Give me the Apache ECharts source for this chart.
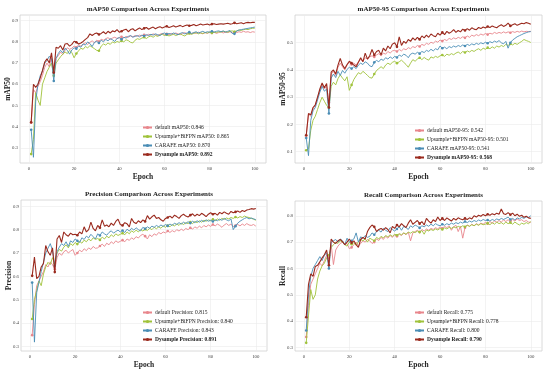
<!DOCTYPE html>
<html>
<head>
<meta charset="utf-8">
<script src="https://cdn.jsdelivr.net/npm/echarts@6/dist/echarts.min.js"></script>
<style>html,body{margin:0;padding:0;background:#fff}#c{width:550px;height:370px}</style>
</head>
<body>
<div id="c"></div>
<script>
// ---- data ----
const seriesNames = ['default', 'Upsample+BiFPN', 'CARAFE', 'Dysample'];
const xTicks = [0, 20, 40, 60, 80, 100];

// mAP50
const map50_default = [
0.418,0.575,0.560,0.590,0.612,0.642,0.680,0.700,0.682,0.728,
0.660,0.722,0.735,0.752,0.740,0.760,0.772,0.765,0.770,0.780,
0.775,0.786,0.780,0.790,0.796,0.788,0.798,0.805,0.796,0.808,
0.802,0.812,0.808,0.815,0.820,0.812,0.818,0.822,0.816,0.820,
0.824,0.818,0.826,0.822,0.828,0.824,0.830,0.826,0.832,0.828,
0.834,0.830,0.836,0.832,0.838,0.834,0.830,0.836,0.840,0.834,
0.838,0.834,0.840,0.836,0.842,0.838,0.834,0.840,0.844,0.838,
0.842,0.838,0.844,0.840,0.846,0.842,0.838,0.844,0.840,0.846,
0.842,0.846,0.840,0.844,0.848,0.842,0.846,0.844,0.848,0.842,
0.846,0.844,0.848,0.845,0.850,0.846,0.848,0.844,0.848,0.846];
const map50_upsample = [
0.270,0.340,0.560,0.525,0.500,0.600,0.630,0.660,0.680,0.700,
0.640,0.700,0.715,0.730,0.742,0.752,0.745,0.760,0.750,0.725,
0.745,0.758,0.770,0.765,0.778,0.772,0.782,0.775,0.768,0.760,
0.758,0.780,0.790,0.785,0.795,0.788,0.800,0.795,0.802,0.798,
0.805,0.800,0.810,0.806,0.798,0.795,0.808,0.815,0.812,0.818,
0.822,0.816,0.824,0.828,0.822,0.830,0.826,0.832,0.836,0.830,
0.834,0.828,0.832,0.836,0.830,0.834,0.838,0.832,0.828,0.836,
0.840,0.836,0.840,0.844,0.838,0.842,0.840,0.844,0.842,0.846,
0.842,0.846,0.844,0.848,0.846,0.850,0.848,0.846,0.850,0.852,
0.848,0.852,0.856,0.854,0.858,0.860,0.858,0.862,0.864,0.865];
const map50_carafe = [
0.385,0.255,0.520,0.600,0.640,0.662,0.700,0.712,0.732,0.720,
0.615,0.722,0.745,0.760,0.748,0.770,0.760,0.742,0.762,0.772,
0.768,0.780,0.775,0.790,0.785,0.800,0.792,0.778,0.798,0.802,
0.795,0.808,0.800,0.812,0.805,0.815,0.810,0.802,0.816,0.820,
0.812,0.822,0.818,0.826,0.830,0.822,0.826,0.830,0.824,0.832,
0.828,0.834,0.830,0.836,0.832,0.838,0.834,0.830,0.838,0.842,
0.836,0.840,0.836,0.842,0.838,0.834,0.840,0.844,0.838,0.842,
0.846,0.840,0.844,0.848,0.842,0.846,0.850,0.844,0.848,0.846,
0.850,0.846,0.850,0.852,0.848,0.852,0.846,0.850,0.854,0.840,
0.838,0.852,0.856,0.858,0.860,0.862,0.864,0.866,0.868,0.870];
const map50_dysample = [
0.420,0.600,0.585,0.600,0.630,0.665,0.705,0.720,0.700,0.748,
0.655,0.775,0.770,0.782,0.762,0.790,0.792,0.780,0.788,0.803,
0.798,0.790,0.795,0.802,0.812,0.820,0.838,0.830,0.838,0.842,
0.835,0.840,0.848,0.838,0.850,0.842,0.852,0.848,0.858,0.846,
0.850,0.856,0.860,0.848,0.858,0.862,0.852,0.860,0.866,0.858,
0.864,0.868,0.860,0.866,0.870,0.862,0.868,0.872,0.866,0.870,
0.874,0.868,0.872,0.876,0.870,0.874,0.878,0.872,0.876,0.880,
0.876,0.878,0.882,0.876,0.880,0.884,0.880,0.882,0.884,0.880,
0.884,0.886,0.882,0.884,0.886,0.884,0.886,0.888,0.884,0.886,
0.890,0.886,0.888,0.890,0.886,0.890,0.892,0.890,0.892,0.892];

// mAP50-95
const map5095_default = [
0.158,0.238,0.230,0.258,0.270,0.298,0.325,0.345,0.330,0.340,
0.280,0.385,0.395,0.380,0.410,0.425,0.412,0.400,0.418,0.428,
0.420,0.425,0.418,0.430,0.438,0.432,0.445,0.440,0.448,0.452,
0.448,0.455,0.460,0.452,0.462,0.458,0.468,0.462,0.470,0.472,
0.468,0.475,0.470,0.478,0.474,0.482,0.478,0.486,0.482,0.490,
0.486,0.494,0.490,0.498,0.494,0.502,0.498,0.506,0.502,0.510,
0.506,0.512,0.508,0.516,0.512,0.518,0.514,0.520,0.516,0.522,
0.518,0.525,0.520,0.528,0.524,0.530,0.526,0.532,0.528,0.534,
0.530,0.535,0.532,0.538,0.534,0.538,0.535,0.540,0.536,0.540,
0.537,0.541,0.538,0.542,0.539,0.543,0.540,0.542,0.541,0.542];
const map5095_upsample = [
0.105,0.110,0.178,0.215,0.230,0.255,0.280,0.300,0.285,0.270,
0.260,0.340,0.355,0.345,0.368,0.382,0.370,0.360,0.375,0.325,
0.345,0.365,0.378,0.390,0.385,0.395,0.388,0.380,0.372,0.370,
0.385,0.398,0.405,0.412,0.405,0.418,0.425,0.420,0.428,0.432,
0.425,0.430,0.436,0.428,0.420,0.410,0.425,0.438,0.432,0.440,
0.445,0.438,0.446,0.440,0.436,0.448,0.444,0.450,0.446,0.452,
0.455,0.450,0.458,0.454,0.460,0.456,0.462,0.466,0.460,0.468,
0.464,0.470,0.466,0.472,0.468,0.474,0.478,0.472,0.480,0.476,
0.482,0.478,0.485,0.480,0.488,0.484,0.490,0.486,0.494,0.490,
0.496,0.492,0.498,0.494,0.500,0.505,0.512,0.508,0.505,0.501];
const map5095_carafe = [
0.150,0.085,0.215,0.250,0.262,0.290,0.318,0.340,0.322,0.330,
0.240,0.370,0.385,0.372,0.395,0.380,0.398,0.388,0.402,0.410,
0.405,0.412,0.405,0.418,0.425,0.420,0.430,0.425,0.415,0.412,
0.428,0.435,0.430,0.440,0.435,0.445,0.440,0.448,0.442,0.450,
0.446,0.455,0.450,0.458,0.454,0.445,0.458,0.462,0.458,0.465,
0.460,0.468,0.464,0.472,0.468,0.476,0.470,0.478,0.474,0.488,
0.480,0.484,0.478,0.486,0.482,0.488,0.484,0.490,0.486,0.492,
0.488,0.494,0.490,0.496,0.492,0.498,0.494,0.500,0.496,0.502,
0.498,0.504,0.500,0.506,0.502,0.508,0.500,0.496,0.505,0.480,
0.500,0.510,0.516,0.522,0.526,0.530,0.534,0.537,0.540,0.541];
const map5095_dysample = [
0.160,0.240,0.235,0.262,0.272,0.300,0.330,0.352,0.335,0.350,
0.262,0.392,0.400,0.385,0.418,0.442,0.418,0.405,0.420,0.432,
0.425,0.418,0.412,0.428,0.445,0.430,0.462,0.440,0.452,0.475,
0.455,0.468,0.472,0.455,0.480,0.470,0.488,0.478,0.495,0.500,
0.485,0.522,0.490,0.505,0.498,0.512,0.505,0.518,0.510,0.520,
0.512,0.525,0.518,0.528,0.520,0.532,0.526,0.522,0.535,0.528,
0.538,0.530,0.542,0.535,0.540,0.548,0.538,0.545,0.540,0.550,
0.545,0.552,0.546,0.555,0.550,0.548,0.556,0.552,0.558,0.554,
0.560,0.556,0.562,0.558,0.555,0.562,0.566,0.560,0.564,0.572,
0.562,0.566,0.570,0.564,0.568,0.572,0.570,0.574,0.572,0.568];

// Precision
const prec_default = [
0.348,0.480,0.560,0.580,0.600,0.620,0.650,0.640,0.662,0.650,
0.630,0.680,0.700,0.690,0.705,0.712,0.700,0.708,0.715,0.690,
0.700,0.712,0.705,0.718,0.710,0.722,0.715,0.728,0.720,0.722,
0.730,0.738,0.728,0.742,0.735,0.748,0.740,0.752,0.745,0.750,
0.755,0.748,0.760,0.754,0.765,0.758,0.770,0.764,0.775,0.780,
0.772,0.760,0.778,0.770,0.782,0.776,0.788,0.782,0.790,0.786,
0.794,0.788,0.796,0.790,0.800,0.794,0.802,0.796,0.805,0.800,
0.808,0.802,0.812,0.806,0.815,0.808,0.818,0.812,0.820,0.814,
0.822,0.816,0.824,0.818,0.810,0.820,0.826,0.818,0.824,0.812,
0.818,0.822,0.816,0.824,0.818,0.826,0.820,0.818,0.822,0.815];
const prec_upsample = [
0.417,0.500,0.540,0.580,0.560,0.610,0.640,0.660,0.650,0.680,
0.655,0.700,0.715,0.708,0.725,0.735,0.722,0.740,0.732,0.745,
0.738,0.750,0.742,0.755,0.748,0.760,0.752,0.765,0.758,0.762,
0.756,0.768,0.760,0.772,0.765,0.778,0.770,0.782,0.775,0.780,
0.785,0.778,0.790,0.782,0.795,0.788,0.798,0.790,0.800,0.794,
0.802,0.796,0.806,0.800,0.810,0.804,0.812,0.806,0.816,0.810,
0.818,0.812,0.822,0.815,0.825,0.818,0.828,0.822,0.830,0.826,
0.832,0.826,0.835,0.830,0.838,0.832,0.840,0.836,0.842,0.838,
0.844,0.838,0.846,0.840,0.848,0.844,0.850,0.846,0.852,0.848,
0.854,0.850,0.856,0.852,0.858,0.854,0.852,0.848,0.845,0.840];
const prec_carafe = [
0.573,0.318,0.530,0.575,0.620,0.660,0.700,0.720,0.740,0.712,
0.645,0.705,0.725,0.740,0.732,0.748,0.728,0.752,0.745,0.760,
0.752,0.745,0.765,0.758,0.772,0.765,0.780,0.770,0.760,0.782,
0.775,0.790,0.782,0.776,0.788,0.795,0.785,0.792,0.798,0.790,
0.796,0.788,0.802,0.794,0.806,0.798,0.808,0.800,0.795,0.810,
0.804,0.812,0.806,0.815,0.810,0.818,0.812,0.820,0.814,0.822,
0.816,0.824,0.818,0.828,0.822,0.830,0.824,0.832,0.826,0.834,
0.828,0.836,0.830,0.838,0.832,0.840,0.834,0.842,0.836,0.840,
0.835,0.842,0.838,0.845,0.840,0.848,0.842,0.838,0.846,0.800,
0.815,0.828,0.836,0.842,0.848,0.852,0.846,0.850,0.846,0.843];
const prec_dysample = [
0.602,0.682,0.590,0.600,0.640,0.655,0.732,0.705,0.690,0.722,
0.618,0.760,0.775,0.745,0.790,0.778,0.772,0.785,0.778,0.780,
0.776,0.790,0.782,0.812,0.790,0.800,0.832,0.805,0.795,0.818,
0.808,0.842,0.815,0.820,0.812,0.828,0.818,0.835,0.845,0.822,
0.818,0.830,0.825,0.812,0.848,0.832,0.826,0.838,0.830,0.842,
0.835,0.860,0.845,0.855,0.862,0.848,0.852,0.842,0.836,0.848,
0.852,0.858,0.850,0.862,0.856,0.848,0.860,0.866,0.858,0.854,
0.862,0.868,0.858,0.866,0.860,0.870,0.864,0.856,0.866,0.872,
0.866,0.870,0.862,0.874,0.868,0.876,0.870,0.866,0.878,0.872,
0.876,0.880,0.874,0.882,0.878,0.884,0.886,0.890,0.888,0.891];

// Recall
const rec_default = [
0.340,0.460,0.540,0.560,0.580,0.600,0.620,0.610,0.630,0.650,
0.640,0.690,0.615,0.670,0.685,0.695,0.700,0.690,0.695,0.675,
0.680,0.690,0.700,0.685,0.695,0.705,0.700,0.710,0.705,0.695,
0.700,0.712,0.706,0.718,0.710,0.722,0.715,0.725,0.718,0.728,
0.722,0.730,0.725,0.735,0.728,0.738,0.705,0.735,0.740,0.745,
0.738,0.748,0.742,0.750,0.745,0.752,0.748,0.755,0.750,0.758,
0.752,0.760,0.755,0.762,0.745,0.758,0.764,0.740,0.760,0.715,
0.755,0.765,0.760,0.768,0.762,0.770,0.765,0.772,0.768,0.775,
0.770,0.778,0.772,0.780,0.775,0.782,0.776,0.784,0.778,0.785,
0.778,0.786,0.780,0.788,0.782,0.785,0.778,0.782,0.776,0.775];
const rec_upsample = [
0.318,0.420,0.520,0.483,0.500,0.560,0.590,0.610,0.620,0.640,
0.650,0.680,0.690,0.700,0.695,0.705,0.700,0.690,0.685,0.700,
0.692,0.698,0.688,0.702,0.710,0.705,0.712,0.700,0.715,0.710,
0.705,0.718,0.712,0.722,0.716,0.725,0.720,0.728,0.722,0.730,
0.726,0.732,0.728,0.735,0.730,0.738,0.734,0.740,0.736,0.742,
0.738,0.744,0.730,0.746,0.742,0.748,0.744,0.750,0.746,0.752,
0.748,0.754,0.750,0.756,0.752,0.758,0.754,0.760,0.756,0.762,
0.758,0.764,0.760,0.766,0.762,0.768,0.764,0.770,0.766,0.768,
0.772,0.766,0.774,0.768,0.776,0.770,0.774,0.768,0.776,0.770,
0.774,0.768,0.776,0.770,0.765,0.772,0.768,0.774,0.770,0.778];
const rec_carafe = [
0.365,0.500,0.570,0.600,0.615,0.630,0.645,0.630,0.650,0.660,
0.600,0.700,0.705,0.710,0.700,0.712,0.705,0.690,0.715,0.700,
0.705,0.712,0.735,0.700,0.720,0.715,0.725,0.718,0.722,0.735,
0.728,0.740,0.745,0.738,0.752,0.745,0.740,0.755,0.748,0.742,
0.750,0.758,0.745,0.760,0.755,0.748,0.762,0.756,0.765,0.760,
0.754,0.762,0.758,0.765,0.760,0.768,0.762,0.770,0.765,0.762,
0.768,0.764,0.770,0.766,0.772,0.768,0.774,0.770,0.776,0.772,
0.778,0.774,0.780,0.776,0.782,0.778,0.784,0.780,0.786,0.782,
0.784,0.780,0.786,0.782,0.788,0.784,0.790,0.786,0.790,0.795,
0.786,0.790,0.784,0.792,0.788,0.794,0.790,0.796,0.794,0.800];
const rec_dysample = [
0.415,0.540,0.580,0.570,0.608,0.612,0.625,0.640,0.652,0.670,
0.612,0.712,0.700,0.695,0.705,0.710,0.702,0.690,0.700,0.712,
0.698,0.705,0.690,0.680,0.710,0.718,0.712,0.740,0.755,0.765,
0.758,0.740,0.748,0.752,0.745,0.755,0.748,0.735,0.760,0.752,
0.765,0.758,0.770,0.762,0.755,0.772,0.785,0.768,0.775,0.782,
0.770,0.778,0.765,0.790,0.780,0.772,0.785,0.778,0.795,0.782,
0.790,0.782,0.792,0.786,0.780,0.790,0.784,0.792,0.788,0.785,
0.790,0.786,0.792,0.788,0.800,0.795,0.802,0.798,0.805,0.800,
0.806,0.802,0.808,0.804,0.810,0.806,0.826,0.808,0.805,0.812,
0.804,0.810,0.800,0.806,0.798,0.802,0.794,0.798,0.792,0.790];

const panels = [
  { title: 'mAP50 Comparison Across Experiments', yName: 'mAP50', metric: 'mAP50',
    data: [map50_default, map50_upsample, map50_carafe, map50_dysample],
    legendVals: ['0.846', '0.865', '0.870', '0.892'],
    yTicks: [0.3, 0.4, 0.5, 0.6, 0.7, 0.8, 0.9], yMin: 0.228, yMax: 0.927 },
  { title: 'mAP50-95 Comparison Across Experiments', yName: 'mAP50-95', metric: 'mAP50-95',
    data: [map5095_default, map5095_upsample, map5095_carafe, map5095_dysample],
    legendVals: ['0.542', '0.501', '0.541', '0.568'],
    yTicks: [0.1, 0.2, 0.3, 0.4, 0.5], yMin: 0.058, yMax: 0.602 },
  { title: 'Precision Comparison Across Experiments', yName: 'Precision', metric: 'Precision',
    data: [prec_default, prec_upsample, prec_carafe, prec_dysample],
    legendVals: ['0.815', '0.840', '0.843', '0.891'],
    yTicks: [0.3, 0.4, 0.5, 0.6, 0.7, 0.8, 0.9], yMin: 0.28, yMax: 0.927 },
  { title: 'Recall Comparison Across Experiments', yName: 'Recall', metric: 'Recall',
    data: [rec_default, rec_upsample, rec_carafe, rec_dysample],
    legendVals: ['0.775', '0.778', '0.800', '0.790'],
    yTicks: [0.3, 0.4, 0.5, 0.6, 0.7, 0.8], yMin: 0.287, yMax: 0.856 }
];

// ---- layout / style ----
const colors = ['#e8868c', '#9fc23a', '#4a8db5', '#9a2a1e'];
const grids = [
  { left: 20, top: 15, width: 246, height: 148 },
  { left: 295, top: 15, width: 247, height: 148 },
  { left: 21, top: 200, width: 246, height: 151 },
  { left: 295, top: 201, width: 247, height: 150 }
];
const legendPos = [
  { left: 142, top: 124 }, { left: 414, top: 127 },
  { left: 142, top: 309 }, { left: 414, top: 309 }
];
const FONT = 'Liberation Serif';

const option = {
  animation: false,
  backgroundColor: '#ffffff',
  textStyle: { fontFamily: FONT },
  title: [], grid: [], xAxis: [], yAxis: [], legend: [], series: []
};

panels.forEach((p, k) => {
  const g = grids[k];
  option.grid.push(Object.assign({ show: true, borderColor: '#d0d0d0', borderWidth: 0.8, backgroundColor: '#fff' }, g));
  option.title.push({
    text: p.title, left: g.left + g.width / 2, top: g.top - 14, textAlign: 'center',
    textStyle: { fontFamily: FONT, fontSize: 7, fontWeight: 'bold', color: '#222' }
  });
  option.xAxis.push({
    type: 'value', gridIndex: k, min: -3.95, max: 104.95,
    name: 'Epoch', nameLocation: 'middle', nameGap: 10,
    nameTextStyle: { fontFamily: FONT, fontSize: 7.5, fontWeight: 'bold', color: '#222' },
    axisLine: { show: false },
    axisTick: { show: false, customValues: xTicks },
    axisLabel: { customValues: xTicks, fontSize: 4.8, color: '#444', margin: 3, fontFamily: FONT },
    splitLine: { show: true, lineStyle: { color: '#ebebeb', width: 0.6 } }
  });
  option.yAxis.push({
    type: 'value', gridIndex: k, min: p.yMin, max: p.yMax,
    name: p.yName, nameLocation: 'middle', nameGap: 8, nameMoveOverlap: false,
    nameTextStyle: { fontFamily: FONT, fontSize: 7.5, fontWeight: 'bold', color: '#222' },
    axisLine: { show: false },
    axisTick: { show: false, customValues: p.yTicks },
    axisLabel: { customValues: p.yTicks, fontSize: 4.8, color: '#444', margin: 2, fontFamily: FONT,
      formatter: v => v.toFixed(1) },
    splitLine: { show: true, lineStyle: { color: '#ebebeb', width: 0.6 } }
  });
  const names = seriesNames.map((s, i) => s + ' ' + p.metric + ': ' + p.legendVals[i]);
  option.legend.push({
    orient: 'vertical', left: legendPos[k].left, top: legendPos[k].top,
    itemWidth: 9, itemHeight: 4, itemGap: 2, padding: 0,
    textStyle: { fontFamily: FONT, fontSize: 5.5, color: '#222', lineHeight: 7, padding: [0, 0, 0, -2] },
    data: names.map((n, i) => i === 3 ? { name: n, textStyle: { fontWeight: 'bold' } } : { name: n })
  });
  p.data.forEach((arr, i) => {
    option.series.push({
      type: 'line', name: names[i], xAxisIndex: k, yAxisIndex: k,
      data: arr.map((v, j) => [j + 1, v]),
      showSymbol: true, showAllSymbol: true, symbol: 'circle',
      symbolSize: (val, params) => (params.dataIndex % 10 === 0 ? 2.6 : 0),
      lineStyle: { width: i === 3 ? 1.1 : 0.9, color: colors[i] },
      itemStyle: { color: colors[i] },
      emphasis: { disabled: true }, z: 2 + i
    });
  });
});

const chart = echarts.init(document.getElementById('c'), null, { renderer: 'canvas' });
chart.setOption(option);
</script>
</body>
</html>
